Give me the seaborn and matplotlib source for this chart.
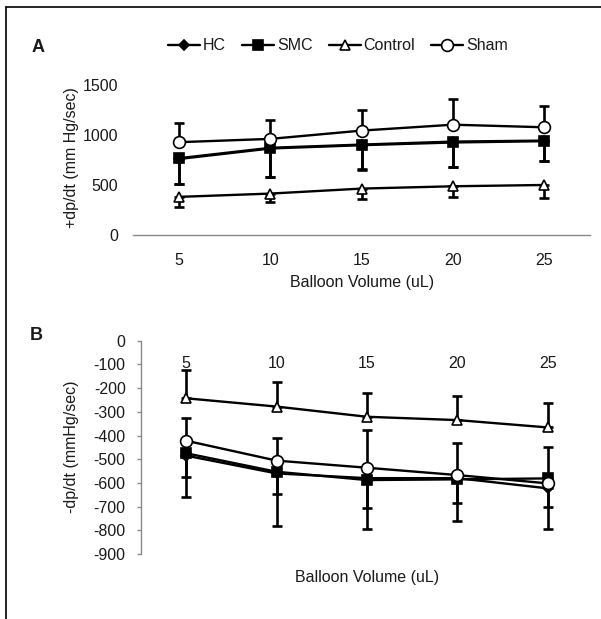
import matplotlib
matplotlib.use("Agg")
import matplotlib.pyplot as plt
from matplotlib.lines import Line2D
import seaborn as sns

volumes = [5, 10, 15, 20, 25]
groups = ["HC", "SMC", "Control", "Sham"]

# Panel A: +dp/dt (mm Hg/sec)
pos_hc = [760, 865, 898, 925, 938]
pos_smc = [768, 872, 904, 934, 944]
pos_control = [381, 414, 464, 487, 500]
pos_sham = [928, 961, 1044, 1103, 1077]
pos_hc_err = [250, 282, 243, 243, 196]
pos_smc_err = [261, 292, 251, 255, 205]
pos_control_err = [100, 83, 109, 112, 135]
pos_sham_err = [192, 192, 205, 256, 208]

# Panel B: -dp/dt (mmHg/sec)
neg_hc = [-485, -560, -580, -580, -623]
neg_smc = [-475, -553, -588, -585, -581]
neg_control = [-243, -278, -321, -335, -366]
neg_sham = [-422, -506, -536, -567, -602]
neg_hc_err = [173, 222, 216, 179, 173]
neg_smc_err = [99, 94, 119, 101, 119]
neg_control_err = [119, 105, 99, 102, 102]
neg_sham_err = [94, 94, 159, 134, 155]

# error bar direction per group (one-sided, as in the figure)
dirs_a = {"HC": "down", "SMC": "down", "Control": "down", "Sham": "up"}
dirs_b = {"HC": "down", "SMC": "down", "Control": "up", "Sham": "up"}

markers = {"HC": ("D", "black", 5.5), "SMC": ("s", "black", 6.5),
           "Control": ("^", "white", 7.5), "Sham": ("o", "white", 8.5)}

sns.set_theme(style="white")
plt.rcParams["font.family"] = ["Liberation Sans", "DejaVu Sans"]
plt.rcParams["axes.unicode_minus"] = False
plt.rcParams["text.color"] = "#1a1a1a"
plt.rcParams["axes.labelcolor"] = "#1a1a1a"
plt.rcParams["xtick.color"] = "#1a1a1a"
plt.rcParams["ytick.color"] = "#1a1a1a"

TXT = 11.5
AXC = "#8a8a8a"


def draw_panel(ax, values, errs, dirs):
    for g in groups:
        v, e = values[g], errs[g]
        zero = [0] * len(e)
        yerr = [zero, e] if dirs[g] == "up" else [e, zero]
        ax.errorbar(volumes, v, yerr=yerr, fmt="none", ecolor="black",
                    elinewidth=1.9, capsize=3.5, capthick=1.9, zorder=1)
    for i, g in enumerate(groups):
        m, fc, ms = markers[g]
        sns.lineplot(x=volumes, y=values[g], ax=ax, color="black", marker=m,
                     markersize=ms, markerfacecolor=fc, markeredgecolor="black",
                     markeredgewidth=1.2, linewidth=1.7, label=g, zorder=3 + i)
    ax.set_xlim(2.5, 27.5)
    ax.set_xticks(volumes)
    ax.set_xticks([7.5, 12.5, 17.5, 22.5, 27.5], minor=True)
    ax.set_xlabel("")
    ax.set_ylabel("")
    ax.grid(False)


fig = plt.figure(figsize=(6.01, 6.19), dpi=100)

# ---- Panel A
ax_a = fig.add_axes([0.2221, 0.6204, 0.7596, 0.2423])
draw_panel(ax_a,
           {"HC": pos_hc, "SMC": pos_smc, "Control": pos_control, "Sham": pos_sham},
           {"HC": pos_hc_err, "SMC": pos_smc_err, "Control": pos_control_err, "Sham": pos_sham_err},
           dirs_a)
ax_a.set_ylim(0, 1500)
ax_a.set_yticks([0, 500, 1000, 1500])
for s in ["left", "top", "right"]:
    ax_a.spines[s].set_visible(False)
ax_a.spines["bottom"].set_color(AXC)
ax_a.spines["bottom"].set_linewidth(1.0)
ax_a.tick_params(axis="x", which="major", length=0, pad=13, labelsize=TXT)
ax_a.tick_params(axis="x", which="minor", direction="in", length=4, color=AXC, width=1)
ax_a.tick_params(axis="y", length=0, pad=11, labelsize=TXT)
ax_a.set_xlabel("Balloon Volume (uL)", fontsize=TXT)
ax_a.xaxis.set_label_coords(0.5, -0.27)
ax_a.set_ylabel("+dp/dt (mm Hg/sec)", fontsize=TXT)
ax_a.yaxis.set_label_coords(-0.119, 0.513)

handles, labels = ax_a.get_legend_handles_labels()
ax_a.get_legend().remove()

# ---- Panel B
ax_b = fig.add_axes([0.2346, 0.1050, 0.7521, 0.3446])
draw_panel(ax_b,
           {"HC": neg_hc, "SMC": neg_smc, "Control": neg_control, "Sham": neg_sham},
           {"HC": neg_hc_err, "SMC": neg_smc_err, "Control": neg_control_err, "Sham": neg_sham_err},
           dirs_b)
ax_b.get_legend().remove()
ax_b.set_ylim(-900, 0)
ax_b.set_yticks(list(range(-900, 1, 100)))
for s in ["top", "right"]:
    ax_b.spines[s].set_visible(False)
ax_b.spines["bottom"].set_position(("data", 0))
ax_b.spines["bottom"].set_visible(False)
ax_b.spines["left"].set_color(AXC)
ax_b.spines["left"].set_linewidth(1.0)
ax_b.tick_params(axis="x", which="major", length=0, pad=11, labelsize=TXT)
ax_b.tick_params(axis="x", which="minor", direction="in", length=4, color="#bbbbbb", width=1)
ax_b.tick_params(axis="y", direction="out", length=3, color=AXC, width=1, pad=8, labelsize=TXT, left=True)
ax_b.set_xlabel("Balloon Volume (uL)", fontsize=TXT)
ax_b.xaxis.set_label_coords(0.5, -0.075)
ax_b.set_ylabel("-dp/dt (mmHg/sec)", fontsize=TXT)
ax_b.yaxis.set_label_coords(-0.137, 0.502)

# legend on top of panel A
fig.legend(handles, labels, loc="center", bbox_to_anchor=(338 / 601, 1 - 46 / 619),
           ncol=4, frameon=False, handlelength=2.0, handletextpad=0.2,
           columnspacing=1.0, fontsize=TXT)

# panel letters
fig.text(38 / 601, 1 - 47 / 619, "A", fontsize=13, fontweight="bold", ha="center", va="center")
fig.text(36 / 601, 1 - 336 / 619, "B", fontsize=13, fontweight="bold", ha="center", va="center")

# frame lines (top and left)
fig.add_artist(Line2D([6 / 601, 6 / 601], [0, 1 - 7 / 619], transform=fig.transFigure,
                      color="black", linewidth=1.2))
fig.add_artist(Line2D([6 / 601, 1], [1 - 7 / 619, 1 - 7 / 619], transform=fig.transFigure,
                      color="black", linewidth=1.2))

fig.savefig("out.png", dpi=100, facecolor="white")
